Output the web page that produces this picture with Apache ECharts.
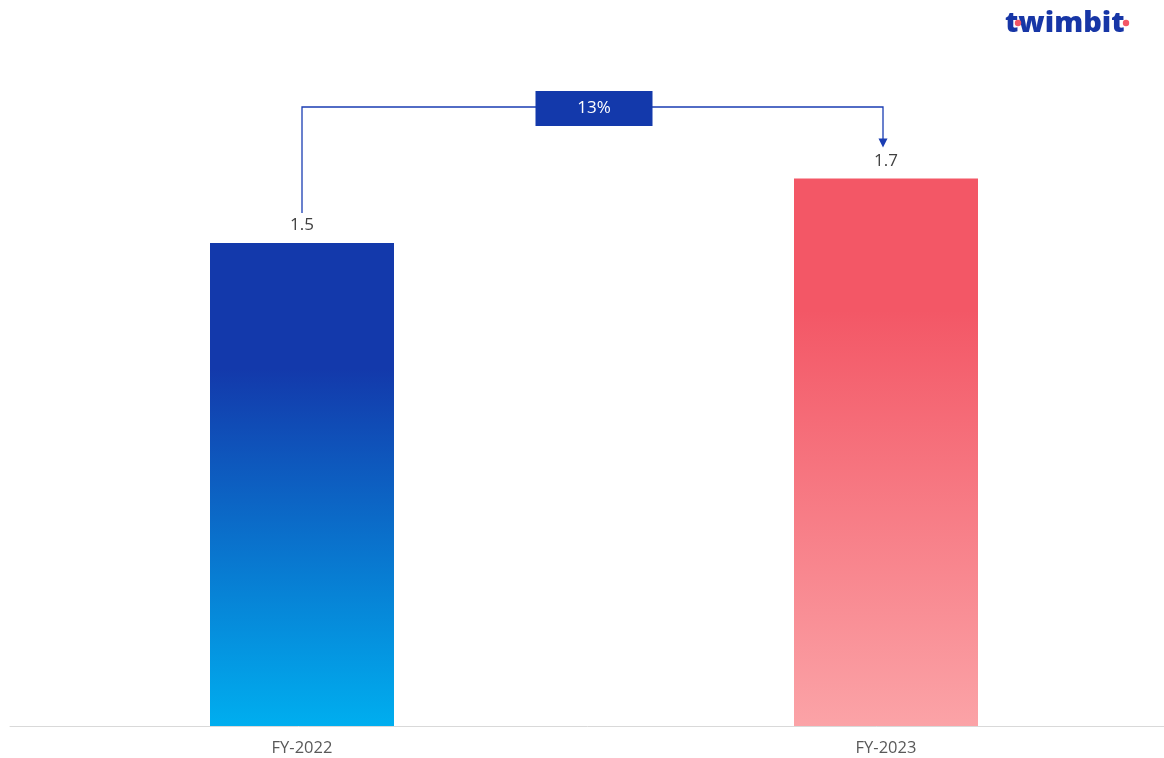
<!DOCTYPE html>
<html>
<head>
<meta charset="utf-8">
<script src="https://cdn.jsdelivr.net/npm/echarts@6/dist/echarts.min.js"></script>
<style>
html,body{margin:0;padding:0;background:#fff;}
#chart{width:1164px;height:758px;}
</style>
</head>
<body>
<div id="chart"></div>
<script>
var categories = ['FY-2022', 'FY-2023'];
var values = [1.5, 1.7];
var growthLabel = '13%';

var chart = echarts.init(document.getElementById('chart'));
var FONT = '"Open Sans", "Noto Sans", sans-serif';

var barColors = [
  new echarts.graphic.LinearGradient(0, 0, 0, 1, [
    {offset: 0, color: '#1339AB'},
    {offset: 0.26, color: '#1339AB'},
    {offset: 1, color: '#00AEEF'}
  ]),
  new echarts.graphic.LinearGradient(0, 0, 0, 1, [
    {offset: 0, color: '#F35766'},
    {offset: 0.24, color: '#F35766'},
    {offset: 1, color: '#FBA3A7'}
  ])
];

var option = {
  backgroundColor: '#ffffff',
  animation: false,
  grid: {left: 10, top: 82, bottom: 32, right: -14, outerBoundsMode: 'none', containLabel: false},
  xAxis: {
    type: 'category',
    data: categories,
    axisLine: {show: true, lineStyle: {color: '#D9D9D9', width: 1}},
    axisTick: {show: false},
    axisLabel: {color: '#595959', fontSize: 16.5, fontFamily: FONT, margin: 14}
  },
  yAxis: {
    type: 'value', min: 0, max: 2,
    show: false,
    splitLine: {show: false}
  },
  graphic: [
    {
      type: 'text', left: 1005, top: 9,
      style: {text: 'twimbit', fill: '#1736A6', font: '900 29px "Open Sans", "Noto Sans", sans-serif'}
    },
    {type: 'circle', shape: {cx: 1018, cy: 23, r: 3.2}, style: {fill: '#F35766'}},
    {type: 'circle', shape: {cx: 1126, cy: 23, r: 3.2}, style: {fill: '#F35766'}}
  ],
  series: [
    {
      type: 'bar',
      barWidth: 184,
      data: values.map(function (v, i) {
        return {value: v, itemStyle: {color: barColors[i]}};
      }),
      label: {
        show: true, position: 'top', distance: 9,
        color: '#404040', fontSize: 17, fontFamily: FONT
      }
    },
    {
      type: 'custom',
      data: [[0, values[0], 1, values[1]]],
      renderItem: function (params, api) {
        var p0 = api.coord([api.value(0), api.value(1)]);
        var p1 = api.coord([api.value(2), api.value(3)]);
        var lineY = 107;
        var x0 = p0[0], x1 = p1[0] - 3;
        var y0 = p0[1] - 30, y1 = p1[1] - 31;
        var midX = (p0[0] + p1[0]) / 2;
        var color = '#1A3DB3';
        return {
          type: 'group',
          children: [
            {
              type: 'polyline',
              shape: {points: [[x0, y0], [x0, lineY], [x1, lineY], [x1, y1 - 8]]},
              style: {stroke: color, lineWidth: 1.3, fill: null}
            },
            {
              type: 'polygon',
              shape: {points: [[x1 - 4.5, y1 - 9], [x1 + 4.5, y1 - 9], [x1, y1]]},
              style: {fill: color}
            },
            {
              type: 'rect',
              shape: {x: midX - 58.5, y: 91, width: 117, height: 35},
              style: {fill: '#1339AB'}
            },
            {
              type: 'text',
              style: {
                x: midX, y: 108.5, text: growthLabel,
                fill: '#ffffff', font: '17px ' + FONT,
                align: 'center', verticalAlign: 'middle'
              }
            }
          ]
        };
      }
    }
  ]
};
chart.setOption(option);
</script>
</body>
</html>
